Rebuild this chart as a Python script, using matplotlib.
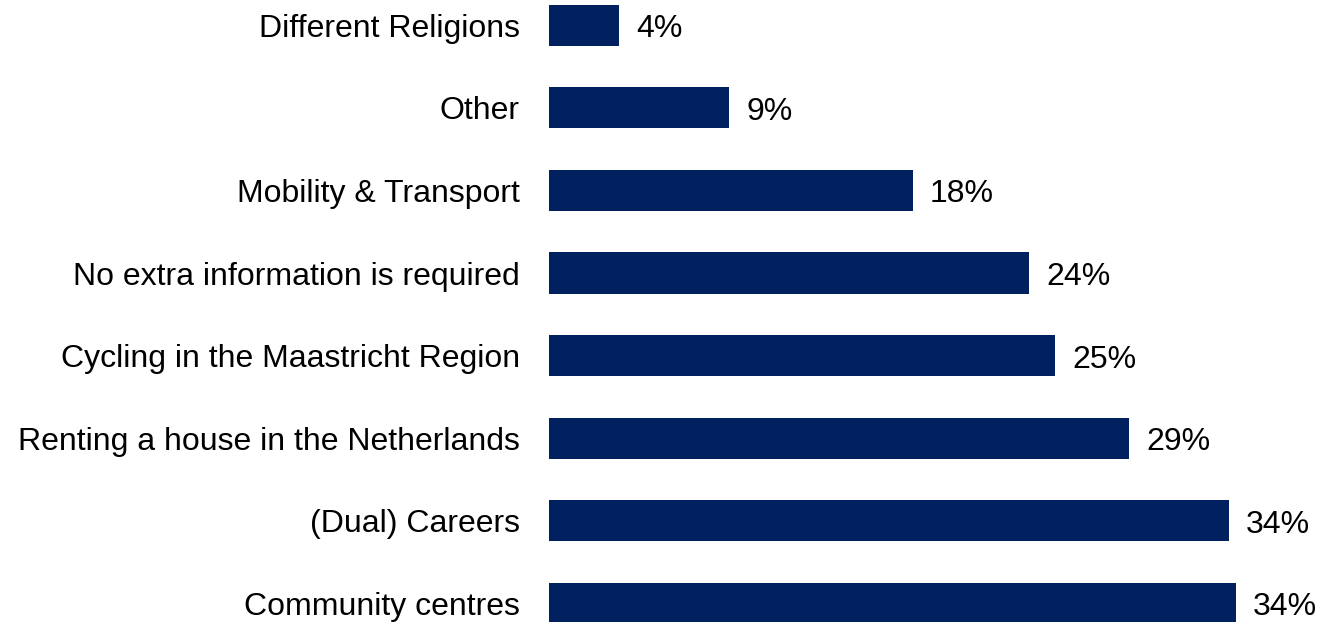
import matplotlib
matplotlib.use("Agg")
import matplotlib.pyplot as plt

# categories (top to bottom) and their shares in %
categories = [
    "Different Religions",
    "Other",
    "Mobility & Transport",
    "No extra information is required",
    "Cycling in the Maastricht Region",
    "Renting a house in the Netherlands",
    "(Dual) Careers",
    "Community centres",
]
values = [3.5, 9.0, 18.2, 24.0, 25.3, 29.0, 34.0, 34.35]
value_labels = ["4%", "9%", "18%", "24%", "25%", "29%", "34%", "34%"]

plt.rcParams["font.family"] = ["Liberation Sans", "DejaVu Sans"]

fig = plt.figure(figsize=(13.42, 6.22), dpi=100)
ax = fig.add_axes([549 / 1342, 0, 793 / 1342, 1])

pos = list(range(len(categories)))
ax.barh(pos, values, height=0.5, color="#002060")

# value labels to the right of the bars
for p, v, lab in zip(pos, values, value_labels):
    ax.annotate(lab, (v, p), xytext=(17, -4), textcoords="offset pixels",
                va="center", ha="left", fontsize=23, color="black")

ax.set_xlim(0, 39.65)
ax.set_ylim(7.225, -0.305)
ax.set_yticks(pos)
ax.set_yticklabels(categories, fontsize=23)
ax.tick_params(axis="y", length=0, pad=21)
ax.set_xticks([])
for s in ax.spines.values():
    s.set_visible(False)

fig.savefig("out.png", dpi=100)
